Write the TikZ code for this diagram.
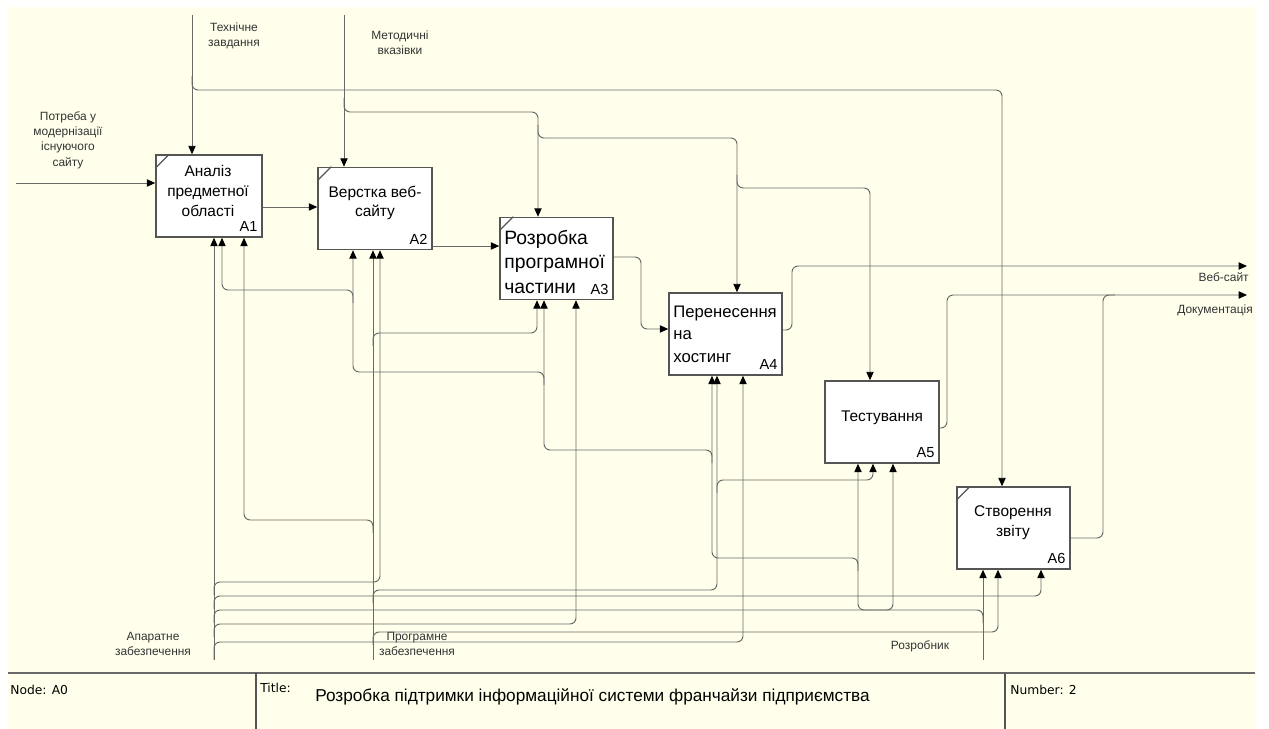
\documentclass[tikz,border=0pt]{standalone}
\usepackage{fontspec}
\setmainfont{Liberation Sans}
\newfontfamily\tablefont{DejaVu Sans}
\usetikzlibrary{arrows.meta}
\definecolor{paper}{RGB}{255,255,236}
\definecolor{wire}{RGB}{105,105,105}
\definecolor{edge}{RGB}{85,85,85}
\tikzset{
  func/.style={draw=edge, line width=0.9pt, fill=white, minimum width=2.26cm, minimum height=1.64cm, inner sep=0pt},
  boxtext/.style={font=\fontsize{8.8}{11.2}\selectfont, align=center, inner sep=0pt},
  boxnum/.style={font=\fontsize{8.3}{10}\selectfont, anchor=south east, inner xsep=2.8pt, inner ysep=3.2pt},
  lbl/.style={font=\fontsize{6.8}{8.7}\selectfont, text=black!80, align=center, inner sep=0pt},
  link/.style={draw=wire, line width=0.55pt, rounded corners=3.5pt},
  arr/.style={link, -{Triangle[length=4.8pt,width=4.2pt,color=black]}},
  tab/.style={font=\tablefont\fontsize{7}{9}\selectfont, anchor=west, inner sep=0pt},
}
\begin{document}
\begin{tikzpicture}[x=0.02cm, y=-0.02cm]
  \useasboundingbox (0,0) rectangle (1269,729);
  \fill[paper] (8,7) rectangle (1255,729);

  % activities
  \node[func, minimum width=2.12cm, label={[boxnum]south east:A1}] (A1) at (209,196) {};
  \node[func, minimum width=2.28cm, label={[boxnum]south east:A2}] (A2) at (375,208.5) {};
  \node[func, label={[boxnum]south east:A3}] (A3) at (556.5,258.5) {};
  \node[func, label={[boxnum]south east:A4}] (A4) at (725.5,334) {};
  \node[func, minimum width=2.28cm, label={[boxnum]south east:A5}] (A5) at (882,422) {};
  \node[func, label={[boxnum]south east:A6}] (A6) at (1013.5,528) {};
  \foreach \b in {A1,A2,A3,A6}
    \draw[edge, line width=0.7pt] (\b.north west) ++(0,14) -- ++(14,-14);

  \node[boxtext] (A1t) at (208,191) {Аналіз\\предметної\\області};
  \node[boxtext] (A2t) at (375,203) {Верстка веб-\\сайту};
  \node[boxtext, font=\fontsize{11}{14.2}\selectfont, align=left, anchor=west] (A3t) at (504,262) {Розробка\\програмної\\частини};
  \node[boxtext, font=\fontsize{9.5}{12.8}\selectfont, align=left, anchor=west] (A4t) at (673,334) {Перенесення\\на\\хостинг};
  \node[boxtext] (A5t) at (882,418) {Тестування};
  \node[boxtext] (A6t) at (1013,523) {Створення\\звіту};

  % border arrows
  \coordinate (need) at (16,183);
  \coordinate (tz) at (192,15);
  \coordinate (mv) at (344,15);
  \coordinate (hw) at (214,660);
  \coordinate (sw) at (373,660);
  \coordinate (dev) at (983,660);
  \coordinate (site) at (1247,266);
  \coordinate (docs) at (1247,295);
  \coordinate (docsj) at (1115,295);

  \node[lbl] (needlbl) at (68,140) {Потреба у\\модернізації\\існуючого\\сайту};
  \node[lbl] (tzlbl) at (234,36) {Технічне\\завдання};
  \node[lbl] (mvlbl) at (400,43) {Методичні\\вказівки};
  \node[lbl] (hwlbl) at (153,644) {Апаратне\\забезпечення};
  \node[lbl] (swlbl) at (417,644) {Програмне\\забезпечення};
  \node[lbl] (devlbl) at (920,646) {Розробник};
  \node[lbl, anchor=east] (sitelbl) at (1249,277) {Веб-сайт};
  \begin{scope}
    \clip (0,0) rectangle (1255,729);
    \node[lbl, anchor=west] (docslbl) at (1177,310) {Документація};
  \end{scope}

  % branch points
  \coordinate (tzj) at (192,76);
  \coordinate (mvj) at (344,98);
  \coordinate (mvj2) at (538,125);
  \coordinate (mvj3) at (737,175);
  \coordinate (hwj1) at (214,595);
  \coordinate (hwj2) at (214,609);
  \coordinate (hwj3) at (214,623);
  \coordinate (hwj4) at (214,637);
  \coordinate (swj1) at (373,346);
  \coordinate (swj2) at (373,533);
  \coordinate (swj3) at (373,603);
  \coordinate (swj4) at (717,493);
  \coordinate (swj5) at (373,645);
  \coordinate (devj1) at (983,623);
  \coordinate (devj2) at (858,571);
  \coordinate (devj3) at (712,463);
  \coordinate (devj4) at (544,385);
  \coordinate (devj5) at (353,303);

  % inputs and outputs
  \draw[arr] (need) -- (need -| A1.west);
  \draw[arr] (A1.east |- 0,207) -- (A2.west |- 0,207);
  \draw[arr] (A2.east |- 0,246) -- (A3.west |- 0,246);
  \draw[arr] (A3.east |- 0,257) -- (641,257) -- (641,329) -- (A4.west |- 0,329);
  \draw[arr] (A4.east |- 0,330) -- (792,330) -- (792,266) -- (site);
  \draw[arr] (A5.east |- 0,428) -- (947,428) -- (947,295) -- (docs);
  \draw[link] (A6.east |- 0,538) -- (1103,538) -- (1103,295) -- (docsj);

  % controls
  \draw[arr] (tz) -- (tz |- A1.north);
  \draw[arr] (tzj) -- (192,90) -- (1002,90) -- (1002,0 |- A6.north);
  \draw[arr] (mv) -- (mv |- A2.north);
  \draw[arr] (mvj) -- (344,112) -- (538,112) -- (538,0 |- A3.north);
  \draw[arr] (mvj2) -- (538,138) -- (737,138) -- (737,0 |- A4.north);
  \draw[arr] (mvj3) -- (737,188) -- (870,188) -- (870,0 |- A5.north);

  % mechanisms
  \draw[arr] (hw) -- (hw |- A1.south);
  \draw[arr] (hwj1) -- (214,582) -- (380,582) -- (380,0 |- A2.south);
  \draw[arr] (hwj2) -- (214,596) -- (1041,596) -- (1041,0 |- A6.south);
  \draw[arr] (hwj3) -- (214,610) -- (893,610) -- (893,0 |- A5.south);
  \draw[arr] (hwj4) -- (214,624) -- (576,624) -- (576,0 |- A3.south);
  \draw[arr] (hw) -- (214,642) -- (743,642) -- (743,0 |- A4.south);

  \draw[arr] (sw) -- (sw |- A2.south);
  \draw[arr] (swj1) -- (373,333) -- (537,333) -- (537,0 |- A3.south);
  \draw[arr] (swj2) -- (373,520) -- (244,520) -- (244,0 |- A1.south);
  \draw[arr] (swj3) -- (373,590) -- (717,590) -- (717,0 |- A4.south);
  \draw[arr] (swj4) -- (717,480) -- (873,480) -- (873,0 |- A5.south);
  \draw[arr] (swj5) -- (373,632) -- (998,632) -- (998,0 |- A6.south);

  \draw[arr] (dev) -- (dev |- A6.south);
  \draw[arr] (devj1) -- (983,610) -- (858,610) -- (858,0 |- A5.south);
  \draw[arr] (devj2) -- (858,558) -- (712,558) -- (712,0 |- A4.south);
  \draw[arr] (devj3) -- (712,450) -- (544,450) -- (544,0 |- A3.south);
  \draw[arr] (devj4) -- (544,372) -- (353,372) -- (353,0 |- A2.south);
  \draw[arr] (devj5) -- (353,290) -- (222,290) -- (222,0 |- A1.south);

  % title block
  \draw[draw=wire, line width=1.1pt] (8,673) -- (1255,673);
  \draw[draw=edge, line width=0.7pt] (256,673) -- (256,729);
  \draw[draw=edge, line width=0.7pt] (1005,673) -- (1005,729);
  \node[tab] (node) at (10,690) {Node: A0};
  \node[tab] (titlekey) at (260,688) {Title:};
  \node[tab, font=\fontsize{9.8}{12}\selectfont] (title) at (315,697) {Розробка підтримки інформаційної системи франчайзи підприємства};
  \node[tab] (number) at (1010,690) {Number: 2};
\end{tikzpicture}
\end{document}
